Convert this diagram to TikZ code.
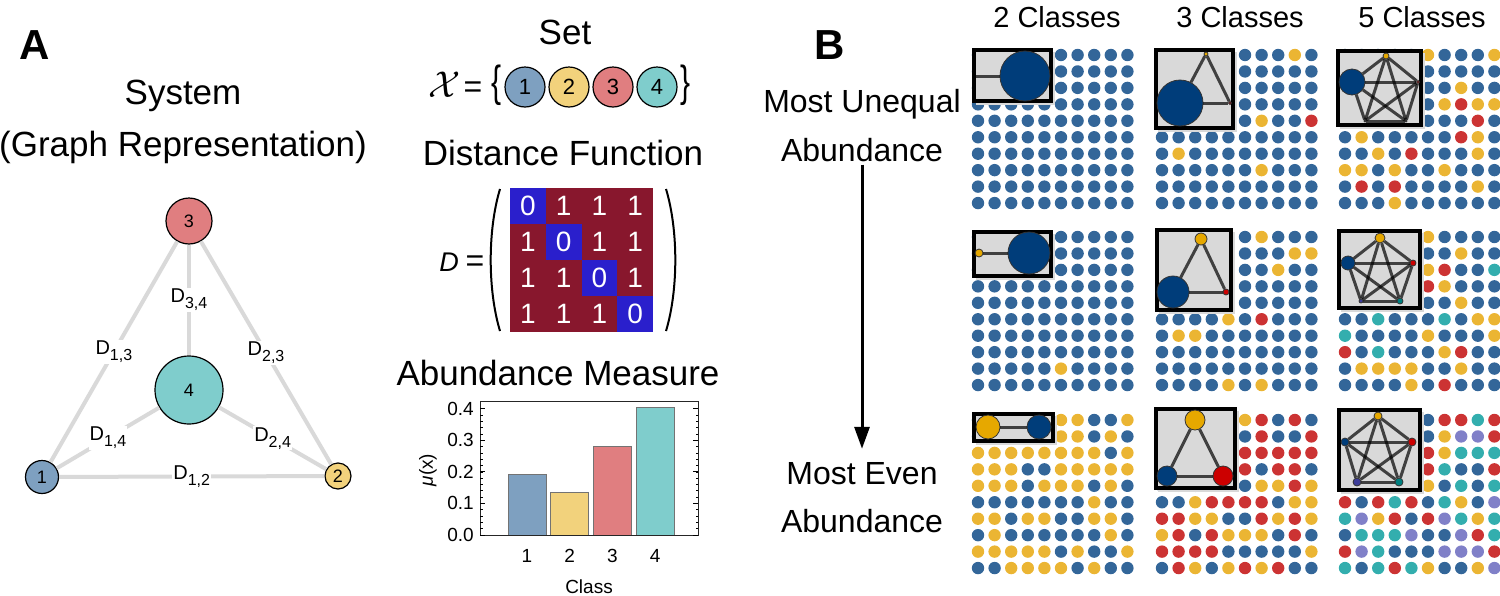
\documentclass[tikz,border=0pt]{standalone}
\usepackage{fontspec}
\setmainfont{Liberation Sans}
\usetikzlibrary{arrows.meta}

\definecolor{c1}{HTML}{7EA0C0}
\definecolor{c2}{HTML}{F2D27C}
\definecolor{c3}{HTML}{E07E80}
\definecolor{c4}{HTML}{7FCDCC}
\definecolor{edgegray}{HTML}{D9D9D9}
\definecolor{matred}{HTML}{88172D}
\definecolor{matblue}{HTML}{2A1FCC}
\definecolor{dotb}{HTML}{336699}
\definecolor{doty}{HTML}{EBB533}
\definecolor{dotr}{HTML}{CC3333}
\definecolor{dott}{HTML}{33AEAE}
\definecolor{dotp}{HTML}{8080C8}
\definecolor{ib}{HTML}{003D7A}
\definecolor{iy}{HTML}{E6A800}
\definecolor{ir}{HTML}{CC0000}
\definecolor{it}{HTML}{008080}
\definecolor{ip}{HTML}{3D3D99}
\definecolor{insetgray}{HTML}{D9D9D9}

\newcommand{\fs}[1]{\fontsize{#1}{#1}\selectfont}
\newcommand{\dsub}[1]{D\raisebox{-6pt}{\fs{16}#1}}

% one 10x10 grid of dots, rows given as lists of b/y/r/t/p
\newcommand{\dotgrid}[3]{%
  \foreach \row [count=\j] in {#3} {
    \foreach \cl [count=\i] in \row
      \fill[fill=dot\cl] ({#1+(\i-1)*16.6},{#2+(\j-1)*16.45}) circle (6.2pt);
  }}

\begin{document}
\begin{tikzpicture}[x=1pt, y=-1pt,
    vertex/.style={circle, draw, line width=1.2pt, inner sep=0pt, font=\fs{18}},
    dlabel/.style={fill=white, inner sep=1pt, font=\fs{20}},
    gedge/.style={draw=edgegray, line width=4pt},
    head/.style={font=\fs{35}, anchor=base, inner sep=0pt},
    side/.style={font=\fs{32}, anchor=base, inner sep=0pt},
    eqtext/.style={font=\fs{27}, anchor=base, inner sep=0pt},
    eqsign/.style={font=\fs{32}, anchor=base, inner sep=0pt},
    setitem/.style={circle, draw, line width=1.2pt, inner sep=0pt, minimum size=40pt, font=\fs{22}},
    cellnum/.style={text=white, font=\fs{28}, inner sep=0pt},
    tick/.style={font=\fs{19}, inner sep=0pt},
    insetbox/.style={draw=black, line width=4pt, fill=insetgray},
    inode/.style={circle, draw=black!80, line width=0.8pt, inner sep=0pt},
    iedge/.style={draw=black, draw opacity=0.7, line width=3pt}]
\useasboundingbox (0,0) rectangle (1500,595);

% panel labels
\node[font=\fs{42}\bfseries] (labA) at (35,45) {A};
\node[font=\fs{42}\bfseries] (labB) at (830,45) {B};

% System
\node[head] (sys1) at (183,104) {System};
\node[head] (sys2) at (183,156) {(Graph Representation)};

\node[vertex, fill=c3, minimum size=46pt] (v3) at (189,221) {3};
\node[vertex, fill=c4, minimum size=68pt] (v4) at (189,390) {4};
\node[vertex, fill=c1, minimum size=33pt] (v1) at (42,477) {1};
\node[vertex, fill=c2, minimum size=26pt] (v2) at (338,476) {2};

\path[gedge] (v3) edge node[dlabel] {\dsub{3,4}} (v4);
\path[gedge] (v1) edge node[dlabel] {\dsub{1,3}} (v3);
\path[gedge] (v2) edge node[dlabel] {\dsub{2,3}} (v3);
\path[gedge] (v1) edge node[dlabel] {\dsub{1,4}} (v4);
\path[gedge] (v2) edge node[dlabel] {\dsub{2,4}} (v4);
\path[gedge] (v1) edge node[dlabel] {\dsub{1,2}} (v2);

% Set
\node[head] (settitle) at (565,44) {Set};
\node[eqtext] (xsym) at (445,97) {\scalebox{1.5}{$\mathcal{X}$}};
\node[eqsign] (xeq) at (473,97) {=};
\node[inner sep=0pt] (lbr) at (497,85) {\scalebox{1}[1.45]{\fs{30}\{}};
\node[inner sep=0pt] (rbr) at (686,85) {\scalebox{1}[1.45]{\fs{30}\}}};
\foreach \k/\col/\xx in {1/c1/525, 2/c2/569, 3/c3/613, 4/c4/657}
  \node[setitem, fill=\col] (s\k) at (\xx,87) {\k};

% Distance function
\node[head] (disttitle) at (563,165) {Distance Function};
\node[eqtext] (dsym) at (449,271) {\textit{D}};
\node[eqsign] (deq) at (475,271) {=};
\fill[matred] (510,188) rectangle (653,332);
\foreach \i in {1,...,4} {
  \fill[matblue] ({510+(\i-1)*35.75},{188+(\i-1)*36}) rectangle ++(35.75,36);
  \foreach \j in {1,...,4} {
    \pgfmathtruncatemacro\d{\i==\j ? 0 : 1}
    \node[cellnum] (m\i\j) at ({510+(\j-0.5)*35.75},{188+(\i-0.5)*36}) {\d};
  }
}
\draw[line width=2pt] (500,189) .. controls (487.6,230) and (487.6,290) .. (500,331);
\draw[line width=2pt] (666,189) .. controls (678.4,230) and (678.4,290) .. (666,331);

% Abundance measure
\node[head] (abtitle) at (558,385) {Abundance Measure};
\foreach \k/\v/\col in {1/0.192/c1, 2/0.134/c2, 3/0.28/c3, 4/0.402/c4} {
  \filldraw[fill=\col, draw=black!55, line width=1pt]
    ({527+(\k-1)*42.7-19},535) rectangle ({527+(\k-1)*42.7+19},{535-\v*316});
  \node[tick] (xl\k) at ({527+(\k-1)*42.7},556) {\k};
}
\draw[line width=1pt, black!85] (480,401) rectangle (698,535);
\foreach \k in {0,...,4} {
  \draw[line width=0.8pt] (480,{535-\k*31.6}) -- ++(5,0);
  \draw[line width=0.8pt] (698,{535-\k*31.6}) -- ++(-5,0);
  \node[tick, anchor=east] (yl\k) at (474,{535-\k*31.6}) {0.\k};
}
\foreach \m in {1,...,20} {
  \draw[line width=0.6pt] (480,{535-\m*6.32}) -- ++(2.5,0);
  \draw[line width=0.6pt] (698,{535-\m*6.32}) -- ++(-2.5,0);
}
\node[tick, rotate=90] (ylab) at (428,470) {\textit{μ}(x)};
\node[tick] (xlab) at (589,587) {Class};

% Panel B side labels
\node[side] (une1) at (862,112) {Most Unequal};
\node[side] (une2) at (862,161) {Abundance};
\node[side] (even1) at (862,484) {Most Even};
\node[side] (even2) at (862,532) {Abundance};
\draw[line width=3pt, -{Triangle[length=22pt, width=15pt]}, shorten <=3pt, shorten >=13pt]
  (une2.south) -- (even1.north);

\node[font=\fs{29}, anchor=base, inner sep=0pt] (h2) at (1057,27) {2 Classes};
\node[font=\fs{29}, anchor=base, inner sep=0pt] (h3) at (1240,27) {3 Classes};
\node[font=\fs{29}, anchor=base, inner sep=0pt] (h5) at (1422,27) {5 Classes};

% dot grids
\dotgrid{978}{55}{
 {b,b,b,b,b,b,b,b,b,b},{b,b,b,b,b,b,b,b,b,b},{b,b,b,b,b,b,b,b,b,b},{b,b,b,b,b,b,b,b,b,b},
 {b,b,b,b,b,b,b,b,b,b},{b,b,b,b,b,b,b,b,b,b},{b,b,b,b,b,b,b,b,b,b},{b,b,b,b,b,b,b,b,b,b},
 {b,b,b,b,b,b,b,b,b,b},{b,b,b,b,b,b,b,b,b,b}}
\dotgrid{1162}{55}{
 {b,b,b,b,b,b,b,b,y,b},{b,b,b,b,b,b,b,b,b,b},{b,b,b,b,b,b,b,b,b,b},{b,b,b,b,b,b,b,b,b,b},
 {b,b,b,b,b,b,y,b,b,r},{b,b,b,b,b,b,b,b,b,b},{b,y,b,b,b,b,b,b,b,b},{b,b,b,b,b,b,y,b,b,b},
 {b,b,b,b,b,b,b,b,b,b},{b,b,b,b,b,b,b,b,b,b}}
\dotgrid{1345}{55}{
 {b,b,b,b,b,y,b,b,b,y},{b,b,b,b,b,b,b,b,b,b},{b,b,b,b,b,b,b,y,b,b},{b,b,b,b,b,b,y,r,y,y},
 {b,b,b,b,b,b,b,b,r,b},{b,y,b,b,b,b,b,r,y,b},{b,b,y,b,r,b,b,b,y,b},{y,y,b,y,b,b,y,b,b,b},
 {b,r,b,r,b,b,b,b,y,b},{b,b,b,y,b,b,b,b,b,b}}
\dotgrid{978}{237}{
 {b,b,b,b,b,b,b,b,b,b},{b,b,b,b,b,b,b,b,b,b},{b,b,b,b,b,b,b,b,b,b},{b,b,b,b,b,b,b,b,b,b},
 {b,b,b,b,b,b,b,b,b,b},{b,b,b,b,b,b,b,b,b,b},{b,b,b,b,b,b,b,b,b,b},{b,b,b,b,b,b,b,b,b,b},
 {b,b,b,b,b,y,b,b,b,b},{b,b,b,b,b,b,b,b,b,b}}
\dotgrid{1162}{237}{
 {b,b,b,b,b,b,y,b,b,b},{b,b,b,b,b,b,b,b,y,y},{b,b,b,b,b,b,b,y,b,b},{b,b,b,b,b,b,b,b,b,b},
 {b,b,b,b,b,b,b,b,b,b},{b,b,b,b,y,b,r,b,b,b},{b,y,y,b,b,b,b,b,b,b},{b,b,b,b,b,b,b,b,b,b},
 {b,b,b,b,b,b,b,b,b,b},{b,b,b,b,y,b,y,b,b,b}}
\dotgrid{1345}{237}{
 {b,b,b,b,b,y,b,b,b,b},{b,b,b,b,b,b,b,y,b,b},{b,b,b,b,b,y,r,b,b,t},{b,b,b,b,b,r,y,b,b,b},
 {b,b,b,b,b,b,b,y,b,b},{b,b,t,b,b,b,t,b,y,y},{t,b,b,b,b,y,b,b,b,y},{r,b,t,b,b,b,y,r,b,b},
 {b,y,y,y,y,b,b,y,b,b},{b,b,b,b,y,b,r,b,b,b}}
\dotgrid{978}{420}{
 {b,b,b,b,b,y,y,b,b,y},{b,b,b,b,b,y,y,b,y,b},{y,y,y,y,y,y,y,y,b,y},{y,y,y,b,b,y,y,y,y,y},
 {y,y,y,b,y,y,y,b,y,b},{b,b,b,b,b,b,b,y,b,b},{y,y,b,y,y,b,b,y,y,b},{b,y,b,b,b,b,b,b,y,b},
 {y,y,y,y,y,b,y,b,b,y},{b,b,y,y,y,y,b,y,b,b}}
\dotgrid{1162}{420}{
 {b,b,b,b,b,y,r,b,r,b},{b,b,b,b,b,b,r,b,b,r},{b,b,b,b,b,r,r,r,r,r},{b,b,b,b,b,r,b,r,r,b},
 {b,b,b,b,b,b,y,y,r,y},{b,b,y,r,r,r,r,b,y,y},{r,r,y,y,b,b,r,y,r,y},{y,r,b,r,y,y,y,b,r,b},
 {r,r,r,r,b,b,b,b,b,y},{b,r,y,b,y,r,y,r,b,b}}
\dotgrid{1345}{420}{
 {b,b,b,b,b,b,r,r,t,r},{b,b,b,b,b,b,y,p,p,r},{b,b,b,b,b,r,y,t,t,t},{b,b,b,b,b,r,t,b,b,r},
 {b,b,b,b,b,y,b,t,b,t},{r,b,r,t,r,b,t,y,b,p},{t,p,y,r,b,r,p,t,y,t},{b,t,t,t,p,b,b,p,r,t},
 {r,p,t,b,b,b,p,p,p,r},{t,b,t,r,t,y,b,b,y,p}}

% insets: 2 classes
\fill[black!15] (976,52) rectangle (1055,105);
\draw[insetbox] (974,50) rectangle (1051,101);
\node[inode, fill=ib, minimum size=50pt] (t1b) at (1025,76) {};
\coordinate (t1y) at (976,76);
\draw[iedge] (t1y) -- (t1b);

\fill[black!15] (976,234) rectangle (1055,280);
\draw[insetbox] (974,232) rectangle (1051,276);
\node[inode, fill=iy, minimum size=8pt] (m1y) at (979,253) {};
\node[inode, fill=ib, minimum size=42pt] (m1b) at (1029,253) {};
\draw[iedge] (m1y) -- (m1b);

\fill[black!15] (976,416) rectangle (1057,445);
\draw[insetbox] (974,414) rectangle (1053,441);
\node[inode, fill=iy, minimum size=24pt] (b1y) at (988,427) {};
\node[inode, fill=ib, minimum size=24pt] (b1b) at (1039,427) {};
\draw[iedge] (b1y) -- (b1b);

% insets: 3 classes
\fill[black!15] (1158,52) rectangle (1237,132);
\draw[insetbox] (1156,50) rectangle (1233,128);
\node[inode, fill=iy, minimum size=4pt] (t2y) at (1206,54) {};
\node[inode, fill=ib, minimum size=46pt] (t2b) at (1180,103) {};
\node[inode, fill=ir, minimum size=3pt] (t2r) at (1230,103) {};
\draw[iedge] (t2y) -- (t2b);
\draw[iedge] (t2y) -- (t2r);
\draw[iedge] (t2b) -- (t2r);

\fill[black!15] (1159,232) rectangle (1235,314);
\draw[insetbox] (1157,230) rectangle (1231,310);
\node[inode, fill=iy, minimum size=12pt] (m2y) at (1201,239) {};
\node[inode, fill=ib, minimum size=32pt] (m2b) at (1173,292) {};
\node[inode, fill=ir, minimum size=6pt] (m2r) at (1226,292) {};
\draw[iedge] (m2y) -- (m2b);
\draw[iedge] (m2y) -- (m2r);
\draw[iedge] (m2b) -- (m2r);

\fill[black!15] (1158,411) rectangle (1239,492);
\draw[insetbox] (1156,409) rectangle (1235,488);
\node[inode, fill=iy, minimum size=20pt] (b2y) at (1195,420) {};
\node[inode, fill=ib, minimum size=20pt] (b2b) at (1167,476) {};
\node[inode, fill=ir, minimum size=20pt] (b2r) at (1223,476) {};
\draw[iedge] (b2y) -- (b2b);
\draw[iedge] (b2y) -- (b2r);
\draw[iedge] (b2b) -- (b2r);

% insets: 5 classes
\fill[black!15] (1340,53) rectangle (1425,129);
\draw[insetbox] (1338,51) rectangle (1421,125);
\node[inode, fill=iy, minimum size=6pt] (t3y) at (1386,56) {};
\node[inode, fill=ib, minimum size=26pt] (t3b) at (1352,82) {};
\node[inode, fill=ir, minimum size=3pt] (t3r) at (1418,82) {};
\node[inode, fill=ip, minimum size=2pt] (t3p) at (1365,121) {};
\node[inode, fill=it, minimum size=2pt] (t3t) at (1406,121) {};
\foreach \a/\b in {y/b, y/r, y/p, y/t, b/r, b/p, b/t, r/p, r/t, p/t}
  \draw[iedge] (t3\a) -- (t3\b);

\fill[black!15] (1341,233) rectangle (1424,312);
\draw[insetbox] (1339,231) rectangle (1420,308);
\node[inode, fill=iy, minimum size=10pt] (m3y) at (1380,238) {};
\node[inode, fill=ib, minimum size=14pt] (m3b) at (1348,263) {};
\node[inode, fill=ir, minimum size=6pt] (m3r) at (1413,263) {};
\node[inode, fill=ip, minimum size=4pt] (m3p) at (1361,301) {};
\node[inode, fill=it, minimum size=6pt] (m3t) at (1400,301) {};
\foreach \a/\b in {y/b, y/r, y/p, y/t, b/r, b/p, b/t, r/p, r/t, p/t}
  \draw[iedge] (m3\a) -- (m3\b);

\fill[black!15] (1341,412) rectangle (1424,494);
\draw[insetbox] (1339,410) rectangle (1420,490);
\node[inode, fill=iy, minimum size=8pt] (b3y) at (1378,416) {};
\node[inode, fill=ib, minimum size=8pt] (b3b) at (1345,442) {};
\node[inode, fill=ir, minimum size=8pt] (b3r) at (1412,442) {};
\node[inode, fill=ip, minimum size=8pt] (b3p) at (1357,482) {};
\node[inode, fill=it, minimum size=8pt] (b3t) at (1399,482) {};
\foreach \a/\b in {y/b, y/r, y/p, y/t, b/r, b/p, b/t, r/p, r/t, p/t}
  \draw[iedge] (b3\a) -- (b3\b);
\end{tikzpicture}
\end{document}
